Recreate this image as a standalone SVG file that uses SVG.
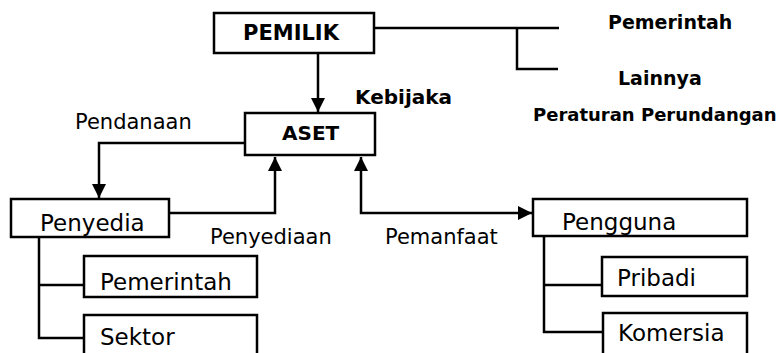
<svg xmlns="http://www.w3.org/2000/svg" width="778" height="353" viewBox="0 0 778 353">
<style>
.box{fill:#fff;stroke:#000;stroke-width:2.5}
.ln{fill:none;stroke:#000;stroke-width:2.5}
.t{font-family:"DejaVu Sans","Liberation Sans",sans-serif;fill:#000}
.b{font-weight:bold}
.bx{font-size:23px}
.lb{font-size:21px}
</style>
<defs>
<marker id="ah" viewBox="0 0 14 14" refX="14" refY="7" markerWidth="14" markerHeight="14" markerUnits="userSpaceOnUse" orient="auto-start-reverse">
<path d="M0,0 L14,7 L0,14 z" fill="#000"/>
</marker>
</defs>
<rect width="778" height="353" fill="#fff"/>
<g id="connectors">
<path class="ln" d="M318,53 V112" marker-end="url(#ah)"/>
<path class="ln" d="M374,28 H559 M517,28 V69 H558"/>
<path class="ln" d="M245,143 H99 V198" marker-end="url(#ah)"/>
<path class="ln" d="M169,213 H275 V157" marker-end="url(#ah)"/>
<path class="ln" d="M361,157 V213 H532" marker-start="url(#ah)" marker-end="url(#ah)"/>
<path class="ln" d="M39,237 V338 H84 M39,285 H84"/>
<path class="ln" d="M544,236 V332 H603 M544,285 H602"/>
</g>
<g id="pemilik">
<rect class="box" x="214" y="13" width="160" height="40"/>
<text class="t b" x="243" y="40" font-size="21">PEMILIK</text>
</g>
<g id="aset">
<rect class="box" x="245" y="113" width="130" height="42"/>
<text class="t b" x="282" y="140" font-size="20">ASET</text>
</g>
<g id="penyedia">
<rect class="box" x="11" y="199" width="158" height="38"/>
<text class="t bx" x="40" y="231">Penyedia</text>
</g>
<g id="pemerintah-box">
<rect class="box" x="84" y="256" width="173" height="41"/>
<text class="t bx" x="100" y="290">Pemerintah</text>
</g>
<g id="sektor">
<rect class="box" x="84" y="315" width="173" height="50"/>
<text class="t bx" x="100" y="345">Sektor</text>
</g>
<g id="pengguna">
<rect class="box" x="533" y="199" width="214" height="37"/>
<text class="t bx" x="562" y="230">Pengguna</text>
</g>
<g id="pribadi">
<rect class="box" x="602" y="257" width="145" height="39"/>
<text class="t bx" x="617" y="286">Pribadi</text>
</g>
<g id="komersia">
<rect class="box" x="603" y="313" width="144" height="50"/>
<text class="t bx" x="618" y="341">Komersia</text>
</g>
<g id="labels">
<text class="t b" x="608" y="29" font-size="19">Pemerintah</text>
<text class="t b" x="618" y="85" font-size="19">Lainnya</text>
<text class="t b" x="533" y="121" font-size="18">Peraturan Perundangan</text>
<text class="t b" x="355" y="104" font-size="20">Kebijaka</text>
<text class="t lb" x="75" y="129">Pendanaan</text>
<text class="t lb" x="210" y="244">Penyediaan</text>
<text class="t lb" x="385" y="244">Pemanfaat</text>
</g>
</svg>
